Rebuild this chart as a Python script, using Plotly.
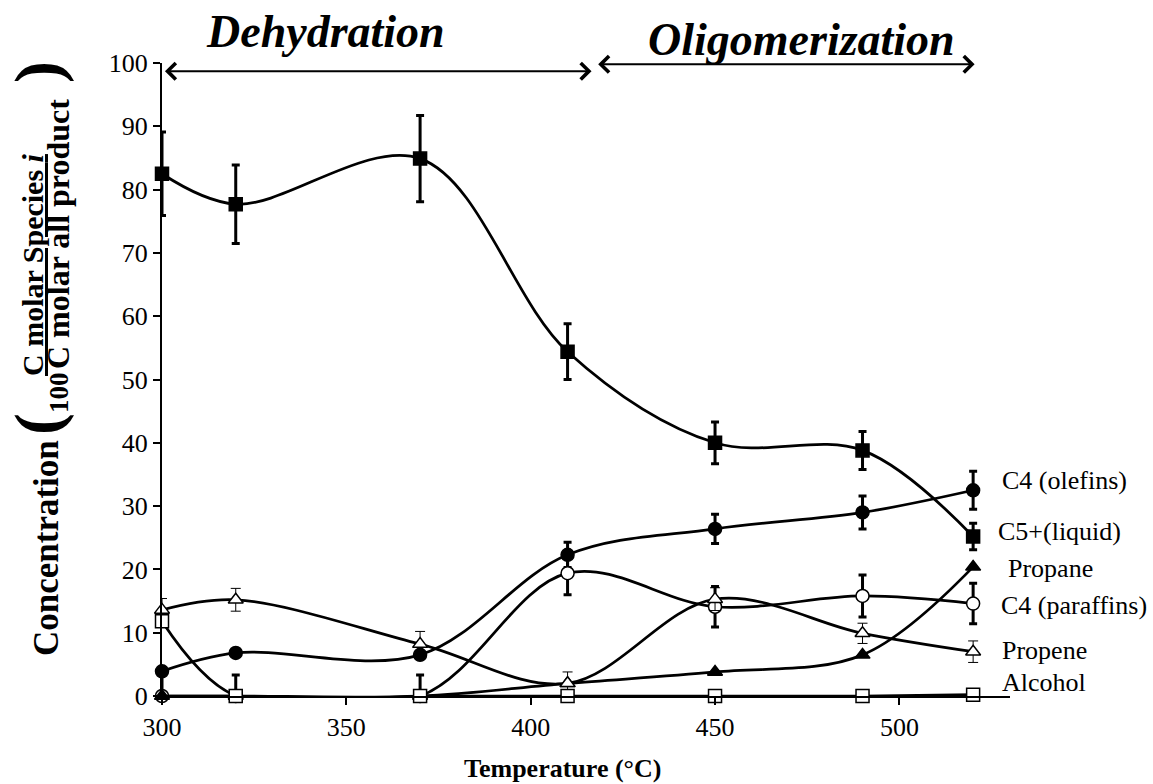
import plotly.graph_objects as go

# ---------------- data ----------------
temps = [300, 320, 370, 410, 450, 490, 520]

c5_liquid = [82.5, 77.7, 84.9, 54.4, 40.0, 38.8, 25.2]
c5_liquid_err = [6.6, 6.2, 6.8, 4.4, 3.3, 3.0, 2.1]

c4_olefins = [3.9, 6.8, 6.5, 22.3, 26.4, 29.0, 32.5]
c4_olefins_err = [0, 0, 0, 2.0, 2.3, 2.6, 3.0]

c4_paraffins = [0, 0, 0, 19.4, 14.1, 15.8, 14.6]
c4_paraffins_err_plus = [3.5, 3.3, 3.3, 3.4, 3.2, 3.3, 3.2]
c4_paraffins_err_minus = [0, 0, 0, 3.4, 3.2, 3.3, 3.2]

propane = [0, 0, 0, 2.0, 3.8, 6.5, 20.4]

propene = [13.6, 15.2, 8.2, 2.0, 15.3, 9.9, 7.0]
propene_err = [1.8, 1.8, 2.0, 1.8, 1.8, 1.6, 1.7]

alcohol = [11.8, 0, 0, 0, 0, 0, 0.2]

series_labels = ["C4 (olefins)", "C5+(liquid)", "Propane", "C4 (paraffins)", "Propene", "Alcohol"]

x_ticks = [300, 350, 400, 450, 500]
y_ticks = [0, 10, 20, 30, 40, 50, 60, 70, 80, 90, 100]

# ---------------- layout helpers ----------------
W, H = 1153, 784
L, R, T, B = 162, 143, 63, 88
pw, ph = W - L - R, H - T - B


def px(x):
    return (x - L) / pw


def py(y):
    return (H - B - y) / ph


SERIF = "Liberation Serif"
LW = 2.75

fig = go.Figure()


def add(y, symbol, filled, err_plus=None, err_minus=None, thin=False):
    err = None
    if err_plus is not None:
        err = dict(type="data", symmetric=err_minus is None, array=err_plus,
                   arrayminus=err_minus if err_minus is not None else None,
                   color="black", thickness=1 if thin else 3,
                   width=5 if thin else 4)
    fig.add_trace(go.Scatter(
        x=temps, y=y, mode="lines+markers",
        line=dict(color="black", width=LW, shape="spline", smoothing=1),
        marker=dict(symbol=symbol, size=13,
                    color="black" if filled else "white",
                    line=dict(color="black", width=1.5)),
        error_y=err, cliponaxis=False, showlegend=False))


add(c5_liquid, "square", True, c5_liquid_err)
add(c4_olefins, "circle", True, c4_olefins_err)
add(c4_paraffins, "circle", False, c4_paraffins_err_plus, c4_paraffins_err_minus)
add(propane, "triangle-up", True)
add(propene, "triangle-up", False, propene_err, thin=True)
add(alcohol, "square", False)

ann = []

# series labels on the right
label_pos = [(1000, 480), (996, 531), (1006, 568), (999, 605), (1000, 650), (1000, 682)]
for text, (lx, ly) in zip(series_labels, label_pos):
    ann.append(dict(text=text, xref="paper", yref="paper", x=px(lx), y=py(ly),
                    xanchor="left", yanchor="middle", showarrow=False,
                    font=dict(family=SERIF, size=26, color="black")))

# phase titles
ann.append(dict(text="<b><i>Dehydration</i></b>", xref="paper", yref="paper",
                x=px(325), y=py(32), xanchor="center", yanchor="middle", showarrow=False,
                font=dict(family=SERIF, size=46, color="black")))
ann.append(dict(text="<b><i>Oligomerization</i></b>", xref="paper", yref="paper",
                x=px(801), y=py(39), xanchor="center", yanchor="middle", showarrow=False,
                font=dict(family=SERIF, size=46, color="black")))

# double headed arrows
for (x0, x1, yv) in [(300.4, 416.5, 98.7), (417.9, 520.4, 99.8)]:
    ann.append(dict(text="", x=x1, y=yv, ax=x0, ay=yv, xref="x", yref="y",
                    axref="x", ayref="y", showarrow=True, arrowhead=4, startarrowhead=4,
                    arrowside="end+start", arrowsize=1.6, startarrowsize=1.6,
                    arrowwidth=2, arrowcolor="black", standoff=0, startstandoff=0))

# x axis title
ann.append(dict(text="<b>Temperature (°C)</b>", xref="paper", yref="paper",
                x=px(562), y=py(769), xanchor="center", yanchor="middle", showarrow=False,
                font=dict(family=SERIF, size=26, color="black")))

# y axis title pieces
ytitle = [
    ("<b>Concentration</b>", 46, 548, 35),
    ("<b>(</b>", 38, 424, 66),
    ("<b>100</b>", 59, 393, 27),
    ("<b><u>C molar Species <i>i</i></u></b>", 32, 265, 30),
    ("<b>C molar all product</b>", 58, 234, 32),
    ("<b>)</b>", 38, 72, 66),
]
for text, tx, ty, sz in ytitle:
    ann.append(dict(text=text, xref="paper", yref="paper", x=px(tx), y=py(ty),
                    xanchor="center", yanchor="middle", showarrow=False, textangle=-90,
                    font=dict(family=SERIF, size=sz, color="black")))

fig.update_layout(
    width=W, height=H,
    margin=dict(l=L, r=R, t=T, b=B, autoexpand=False),
    paper_bgcolor="white", plot_bgcolor="white",
    annotations=ann,
    xaxis=dict(range=[300, 530], tickvals=x_ticks, showgrid=False, zeroline=False,
               showline=True, linecolor="black", linewidth=2, ticks="outside",
               ticklen=7, tickwidth=2, tickcolor="black",
               tickfont=dict(family=SERIF, size=26, color="black")),
    yaxis=dict(range=[0, 100], tickvals=y_ticks, showgrid=False, zeroline=False,
               showline=True, linecolor="black", linewidth=2, ticks="outside",
               ticklen=7, tickwidth=2, tickcolor="black",
               tickfont=dict(family=SERIF, size=26, color="black")),
)

fig.write_html("out.html")
